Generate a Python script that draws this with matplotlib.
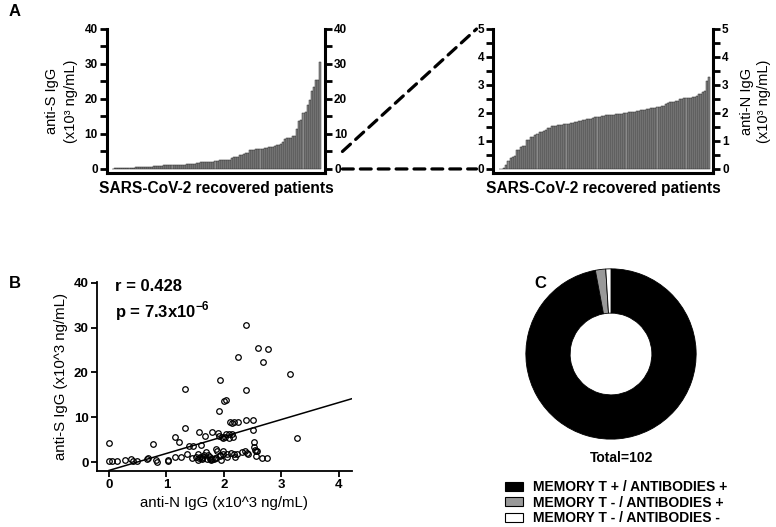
import numpy as np
import matplotlib
matplotlib.use("Agg")
import matplotlib.pyplot as plt
from matplotlib.patches import ConnectionPatch, Patch
from matplotlib import transforms

plt.rcParams['font.family'] = ['Liberation Sans', 'DejaVu Sans']
plt.rcParams['mathtext.fontset'] = 'custom'
plt.rcParams['mathtext.rm'] = 'Liberation Sans'
plt.rcParams['mathtext.bf'] = 'Liberation Sans:bold'

# ---- data (x10^3 ng/mL), paired per patient ----
anti_N = [0.00, 0.00, 0.13, 0.27, 0.38, 0.42, 0.48, 0.66, 0.68, 0.77, 0.82, 0.83,
          1.02, 1.03, 1.14, 1.15, 1.22, 1.26, 1.32, 1.33, 1.36, 1.39, 1.46, 1.52,
          1.54, 1.56, 1.58, 1.60, 1.61, 1.65, 1.67, 1.68, 1.73, 1.76, 1.77, 1.79,
          1.80, 1.86, 1.88, 1.90, 1.91, 1.92, 1.93, 1.94, 1.96, 1.98, 1.99, 2.00,
          2.03, 2.02, 2.03, 2.05, 2.06, 2.08, 2.09, 2.10, 2.12, 2.14, 2.14, 2.16,
          2.17, 2.18, 2.20, 2.23, 2.25, 2.25, 2.31, 2.37, 2.38, 2.38, 2.39, 2.41,
          2.42, 2.50, 2.51, 2.52, 2.53, 2.54, 2.56, 2.58, 2.60, 2.66, 2.68, 2.75,
          2.77, 3.15, 3.28,
          1.55, 1.62, 1.70, 1.85, 1.95, 1.93, 1.87, 1.76, 1.64, 1.45, 2.55, 0.05,
          1.83, 1.57, 1.98]
anti_S = [4.2, 0.15, 0.15, 0.4, 0.6, 0.3, 0.2, 0.7, 1.0, 4.0, 0.4, 0.1,
          0.15, 0.4, 5.6, 1.1, 4.5, 1.1, 7.7, 16.4, 1.7, 3.5, 3.5, 1.1,
          1.9, 6.8, 1.1, 3.9, 0.7, 1.5, 5.9, 2.2, 1.5, 1.1, 0.4, 0.7,
          6.8, 3.0, 2.5, 6.5, 5.9, 11.3, 1.5, 18.4, 5.6, 2.5, 1.9, 13.6,
          13.9, 5.6, 6.2, 1.7, 1.1, 5.4, 6.3, 8.9, 2.0, 8.7, 6.2, 5.6,
          8.9, 1.9, 1.1, 1.9, 8.9, 23.4, 2.2, 2.5, 16.1, 9.4, 30.5, 2.1,
          1.9, 9.3, 7.2, 4.5, 3.3, 2.6, 2.5, 2.5, 25.5, 1.0, 22.3, 1.0,
          25.3, 19.7, 5.4,
          0.5, 0.9, 0.6, 0.8, 0.5, 1.3, 0.9, 0.6, 1.2, 0.8, 1.4, 0.2,
          0.7, 0.9, 5.3]

corr_text = ["r = 0.428", r"p = 7.3x10$^{\mathbf{-6}}$"]

donut_labels = ["MEMORY T + / ANTIBODIES +", "MEMORY T - / ANTIBODIES +",
                "MEMORY T - / ANTIBODIES -"]
donut_values = [99, 2, 1]
donut_colors = ["#000000", "#999999", "#ffffff"]

W, H = 776, 527
fig = plt.figure(figsize=(W / 100, H / 100), dpi=100)


def px_axes(l, t, r, b):
    return fig.add_axes([l / W, 1 - b / H, (r - l) / W, (b - t) / H])


BAR_FC = "#8a8a8a"
BAR_EC = "#2a2a2a"
TICKFS = 8.5


def style_bar_axes(ax, ymax, major, minor):
    for s in ['left', 'right', 'bottom']:
        ax.spines[s].set_linewidth(2.2)
    ax.spines['top'].set_visible(False)
    ax.set_yticks(np.arange(0, ymax + 0.001, major))
    ax.set_yticks(np.arange(minor, ymax, major), minor=True)
    ax.tick_params(axis='y', which='both', left=True, right=True,
                   labelleft=True, labelright=True, width=2.0, direction='out',
                   labelsize=TICKFS, pad=1.5)
    ax.tick_params(axis='y', which='major', length=5)
    ax.tick_params(axis='y', which='minor', length=5)
    for lab in ax.get_yticklabels():
        lab.set_fontweight('bold')
    ax.set_xticks([])
    ax.set_xlabel("SARS-CoV-2 recovered patients", fontsize=11.2,
                  fontweight='bold', labelpad=6)


n = len(anti_S)
idx = np.arange(n)

# ---- Panel A left ----
axL = px_axes(107, 29, 325, 173)
axL.bar(idx, np.sort(anti_S), width=1.0, color=BAR_FC, edgecolor=BAR_EC,
        linewidth=0.35)
axL.set_xlim(-3, n + 1.5)
axL.set_ylim(-1.15, 40)
style_bar_axes(axL, 40, 10, 5)
axL.set_ylabel("anti-S IgG\n(x10³ ng/mL)", fontsize=10.5, labelpad=5,
               linespacing=1.4)

# ---- Panel A right ----
axR = px_axes(493, 29, 713, 173)
axR.bar(idx, np.sort(anti_N), width=1.0, color=BAR_FC, edgecolor=BAR_EC,
        linewidth=0.35)
axR.set_xlim(-3.5, n + 0.8)
axR.set_ylim(-0.145, 5)
style_bar_axes(axR, 5, 1, 0.5)
axR.yaxis.set_label_position('right')
axR.set_ylabel("anti-N IgG\n(x10³ ng/mL)", fontsize=10.5, labelpad=8,
               linespacing=1.25, rotation=90)

# zoom connectors
trL = transforms.blended_transform_factory(axL.transAxes, axL.transData)
trR = transforms.blended_transform_factory(axR.transAxes, axR.transData)
for yL, yR in [(5, 5), (0, 0)]:
    cp = ConnectionPatch(xyA=(1.08, yL), coordsA=trL,
                         xyB=(-0.075, yR), coordsB=trR,
                         color='black', linewidth=2.3,
                         linestyle=(0, (3.4, 2.2)))
    fig.add_artist(cp)

# ---- Panel B ----
axB = px_axes(97, 282, 352, 471)
axB.plot(anti_N, anti_S, linestyle='none', marker='o', markersize=4.0,
         markerfacecolor='none', markeredgecolor='black', markeredgewidth=0.9)
slope, intercept = np.polyfit(anti_N, anti_S, 1)
xs = np.array([0, 4.3])
axB.plot(xs, slope * xs + intercept, color='black', linewidth=1.1)
axB.set_xlim(-0.21, 4.23)
axB.set_ylim(-2.0, 40.2)
axB.set_xticks([0, 1, 2, 3, 4])
axB.set_yticks([0, 10, 20, 30, 40])
for s in ['top', 'right']:
    axB.spines[s].set_visible(False)
for s in ['left', 'bottom']:
    axB.spines[s].set_linewidth(1.3)
axB.tick_params(width=1.3, length=4, labelsize=9.5, pad=2)
for lab in axB.get_xticklabels() + axB.get_yticklabels():
    lab.set_fontweight('bold')
axB.set_xlabel("anti-N IgG (x10^3 ng/mL)", fontsize=10.8, labelpad=3)
axB.set_ylabel("anti-S IgG (x10^3 ng/mL)", fontsize=10.8, labelpad=4)
axB.text(0.07, 0.975, corr_text[0], transform=axB.transAxes, fontsize=12,
         fontweight='bold', va='center', ha='left')
axB.text(0.07, 0.845, corr_text[1], transform=axB.transAxes, fontsize=12,
         fontweight='bold', va='center', ha='left')

# ---- Panel C ----
axC = px_axes(525, 268, 697, 440)
axC.pie(donut_values, colors=donut_colors, startangle=90, counterclock=False,
        radius=1.0, wedgeprops=dict(width=0.52, edgecolor='black',
                                     linewidth=0.6))
axC.set_aspect('equal')
axC.set_xlim(-1.01, 1.01)
axC.set_ylim(-1.01, 1.01)
fig.text(622 / W, 1 - 458 / H, "Total=102", fontsize=10, fontweight='bold',
         ha='center', va='center')
handles = [Patch(facecolor=c, edgecolor='black', linewidth=0.8)
           for c in donut_colors]
fig.legend(handles, donut_labels, loc='upper left',
           bbox_to_anchor=(505 / W, 1 - 480 / H), frameon=False,
           prop=dict(size=10, weight='bold'), handlelength=1.3,
           handleheight=0.6, labelspacing=0.12, handletextpad=0.75,
           borderpad=0, borderaxespad=0)

# panel letters
for lbl, x, y in [("A", 15, 12), ("B", 15, 283), ("C", 540, 283)]:
    fig.text(x / W, 1 - y / H, lbl, fontsize=12, fontweight='bold',
             ha='center', va='center')

fig.savefig("out.png", dpi=100)
